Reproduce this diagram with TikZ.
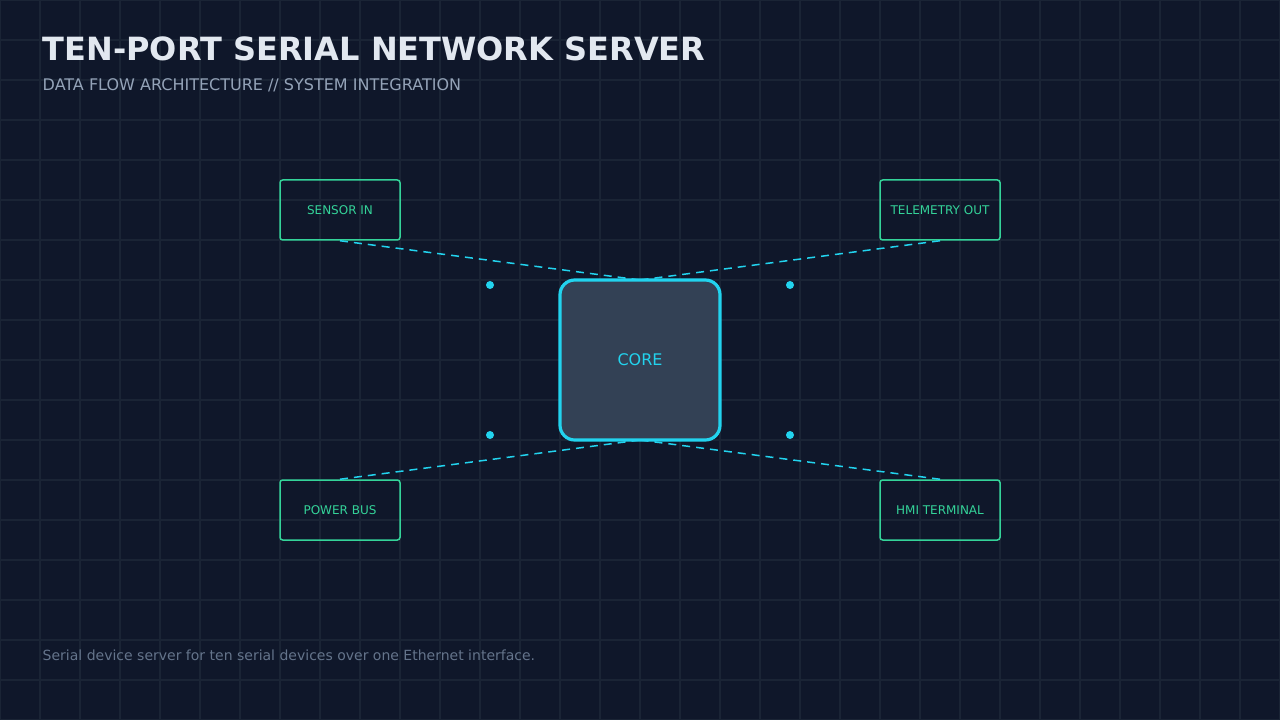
\documentclass[tikz,border=0pt]{standalone}
\usepackage{fontspec}
\setmainfont{DejaVu Sans}
\definecolor{bg}{HTML}{0F172A}
\definecolor{gridc}{HTML}{1A2435}
\definecolor{cyanc}{HTML}{22D3EE}
\definecolor{greenc}{HTML}{34D399}
\definecolor{corefill}{HTML}{334155}
\definecolor{titlec}{HTML}{E2E8F0}
\definecolor{subc}{HTML}{94A3B8}
\definecolor{footc}{HTML}{64748B}
\tikzset{
  portbox/.style={draw=greenc, line width=1.5pt*0.75, rounded corners=2pt, minimum width=90pt, minimum height=45pt, inner sep=0pt, text=greenc, font=\fontsize{9}{11}\selectfont},
  corebox/.style={draw=cyanc, fill=corefill, line width=3.2pt*0.75, rounded corners=11pt, minimum width=120pt, minimum height=120pt, text=cyanc, font=\fontsize{12}{14}\selectfont},
  flow/.style={draw=cyanc, line width=1.5pt*0.75, dash pattern=on 6pt off 4.5pt},
  dotc/.style={fill=cyanc, circle, inner sep=0pt, minimum size=6pt}
}
\begin{document}
\begin{tikzpicture}[x=0.75pt,y=-0.75pt]
\fill[bg] (0,0) rectangle (1280,720);
\useasboundingbox (0,0) rectangle (1280,720);
\foreach \i in {0,40,...,1280} \draw[gridc, line width=1.5pt] (\i,0) -- (\i,720);
\foreach \j in {0,40,...,720} \draw[gridc, line width=1.5pt] (0,\j) -- (1280,\j);
\node[anchor=west, text=titlec, font=\fontsize{24}{28}\bfseries\selectfont] (title) at (38,49) {TEN-PORT SERIAL NETWORK SERVER};
\node[anchor=west, text=subc, font=\fontsize{12}{14}\selectfont] (sub) at (38,85) {DATA FLOW ARCHITECTURE // SYSTEM INTEGRATION};
\node[anchor=west, text=footc, font=\fontsize{10.5}{12}\selectfont] (foot) at (38,655) {Serial device server for ten serial devices over one Ethernet interface.};
\node[portbox] (s) at (340,210) {SENSOR IN};
\node[portbox] (t) at (940,210) {TELEMETRY OUT};
\node[portbox] (p) at (340,510) {POWER BUS};
\node[portbox] (h) at (940,510) {HMI TERMINAL};
\draw[flow] (s.south) -- (640,280) coordinate (ct1);
\draw[flow] (t.south) -- (640,280);
\draw[flow] (p.north) -- (640,440);
\draw[flow] (h.north) -- (640,440);
\node[corebox] (core) at (640,360) {CORE};
\node[dotc] (d1) at (490,285) {};
\node[dotc] (d2) at (790,285) {};
\node[dotc] (d3) at (490,435) {};
\node[dotc] (d4) at (790,435) {};
\end{tikzpicture}
\end{document}
